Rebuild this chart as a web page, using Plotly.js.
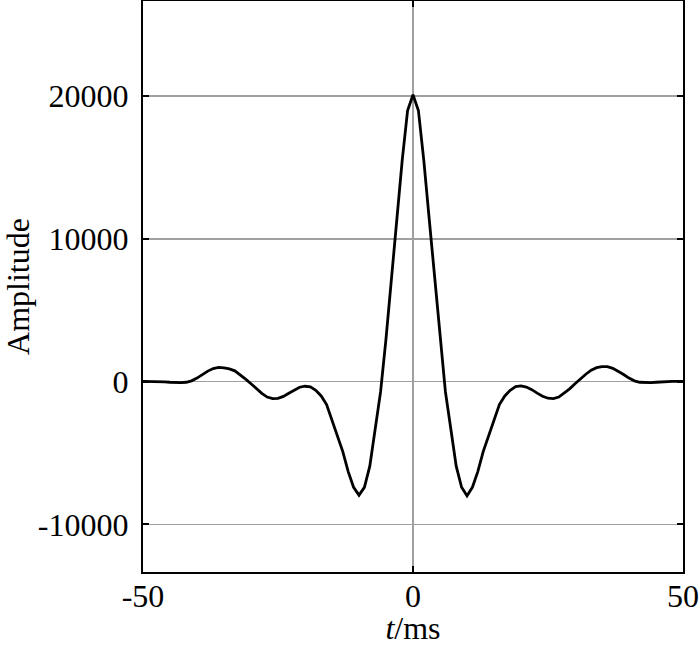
<!DOCTYPE html>
<html>
<head>
<meta charset="utf-8">
<script src="https://cdn.plot.ly/plotly-3.0.1.min.js"></script>
<style>html,body{margin:0;padding:0;background:#fff;}#chart{width:700px;height:646px;}</style>
</head>
<body>
<div id="chart"></div>
<script>
// time in ms (1 ms sampling)
const timeMs = [-50,-49,-48,-47,-46,-45,-44,-43,-42,-41,-40,-39,-38,-37,-36,-35,-34,-33,-32,-31,-30,-29,-28,-27,-26,-25,-24,-23,-22,-21,-20,-19,-18,-17,-16,-15,-14,-13,-12,-11,-10,-9,-8,-7,-6,-5,-4,-3,-2,-1,0,1,2,3,4,5,6,7,8,9,10,11,12,13,14,15,16,17,18,19,20,21,22,23,24,25,26,27,28,29,30,31,32,33,34,35,36,37,38,39,40,41,42,43,44,45,46,47,48,49,50];
// amplitude values
const amplitude = [20,20,20,10,-10,-40,-70,-70,-40,60,250,500,740,920,1000,960,900,760,500,180,-150,-500,-820,-1080,-1190,-1170,-1030,-810,-570,-390,-320,-360,-600,-1000,-1600,-2700,-3800,-4900,-6300,-7400,-7950,-7400,-5920,-3300,-700,3000,7200,11400,15500,19000,20100,19000,15500,11400,7200,3000,-700,-3300,-5920,-7400,-8000,-7400,-6300,-4900,-3800,-2700,-1600,-1000,-600,-350,-300,-380,-560,-800,-1020,-1160,-1190,-1080,-820,-500,-150,200,520,800,980,1060,1050,930,740,500,250,60,-40,-70,-70,-40,-10,10,20,20,20];
const xTicks = [-50, 0, 50];
const yTicks = [-10000, 0, 10000, 20000];

const trace = {
  x: timeMs, y: amplitude, type: 'scatter', mode: 'lines',
  line: {color: '#000', width: 2.8, shape: 'linear'},
  hoverinfo: 'skip'
};
const axisFont = {family: 'Liberation Serif, Times New Roman, serif', size: 32, color: '#000'};
const layout = {
  width: 700, height: 646,
  margin: {l: 143, r: 17, t: 1, b: 74},
  paper_bgcolor: '#fff', plot_bgcolor: '#fff',
  showlegend: false,
  font: axisFont,
  xaxis: {
    range: [-50, 50], tickvals: xTicks, ticktext: xTicks.map(String),
    showgrid: true, gridcolor: '#a0a0a0', gridwidth: 1.5, zeroline: false,
    showline: true, linecolor: '#000', linewidth: 2.2, mirror: 'ticks',
    ticks: 'inside', ticklen: 6, tickwidth: 2, tickcolor: '#000',
    tickfont: axisFont, ticklabelstandoff: -6,
    title: {text: '<i>t</i>/ms', font: axisFont, standoff: 0}
  },
  yaxis: {
    range: [-13333, 26667], tickvals: yTicks, ticktext: yTicks.map(String),
    showgrid: true, gridcolor: '#a0a0a0', gridwidth: 1.5, zeroline: false,
    showline: true, linecolor: '#000', linewidth: 2.2, mirror: 'ticks',
    ticks: 'inside', ticklen: 6, tickwidth: 2, tickcolor: '#000',
    tickfont: axisFont, ticklabelstandoff: 6,
    title: {text: 'Amplitude', font: axisFont, standoff: 6}
  }
};
Plotly.newPlot('chart', [trace], layout, {displayModeBar: false, staticPlot: true});
</script>
</body>
</html>
